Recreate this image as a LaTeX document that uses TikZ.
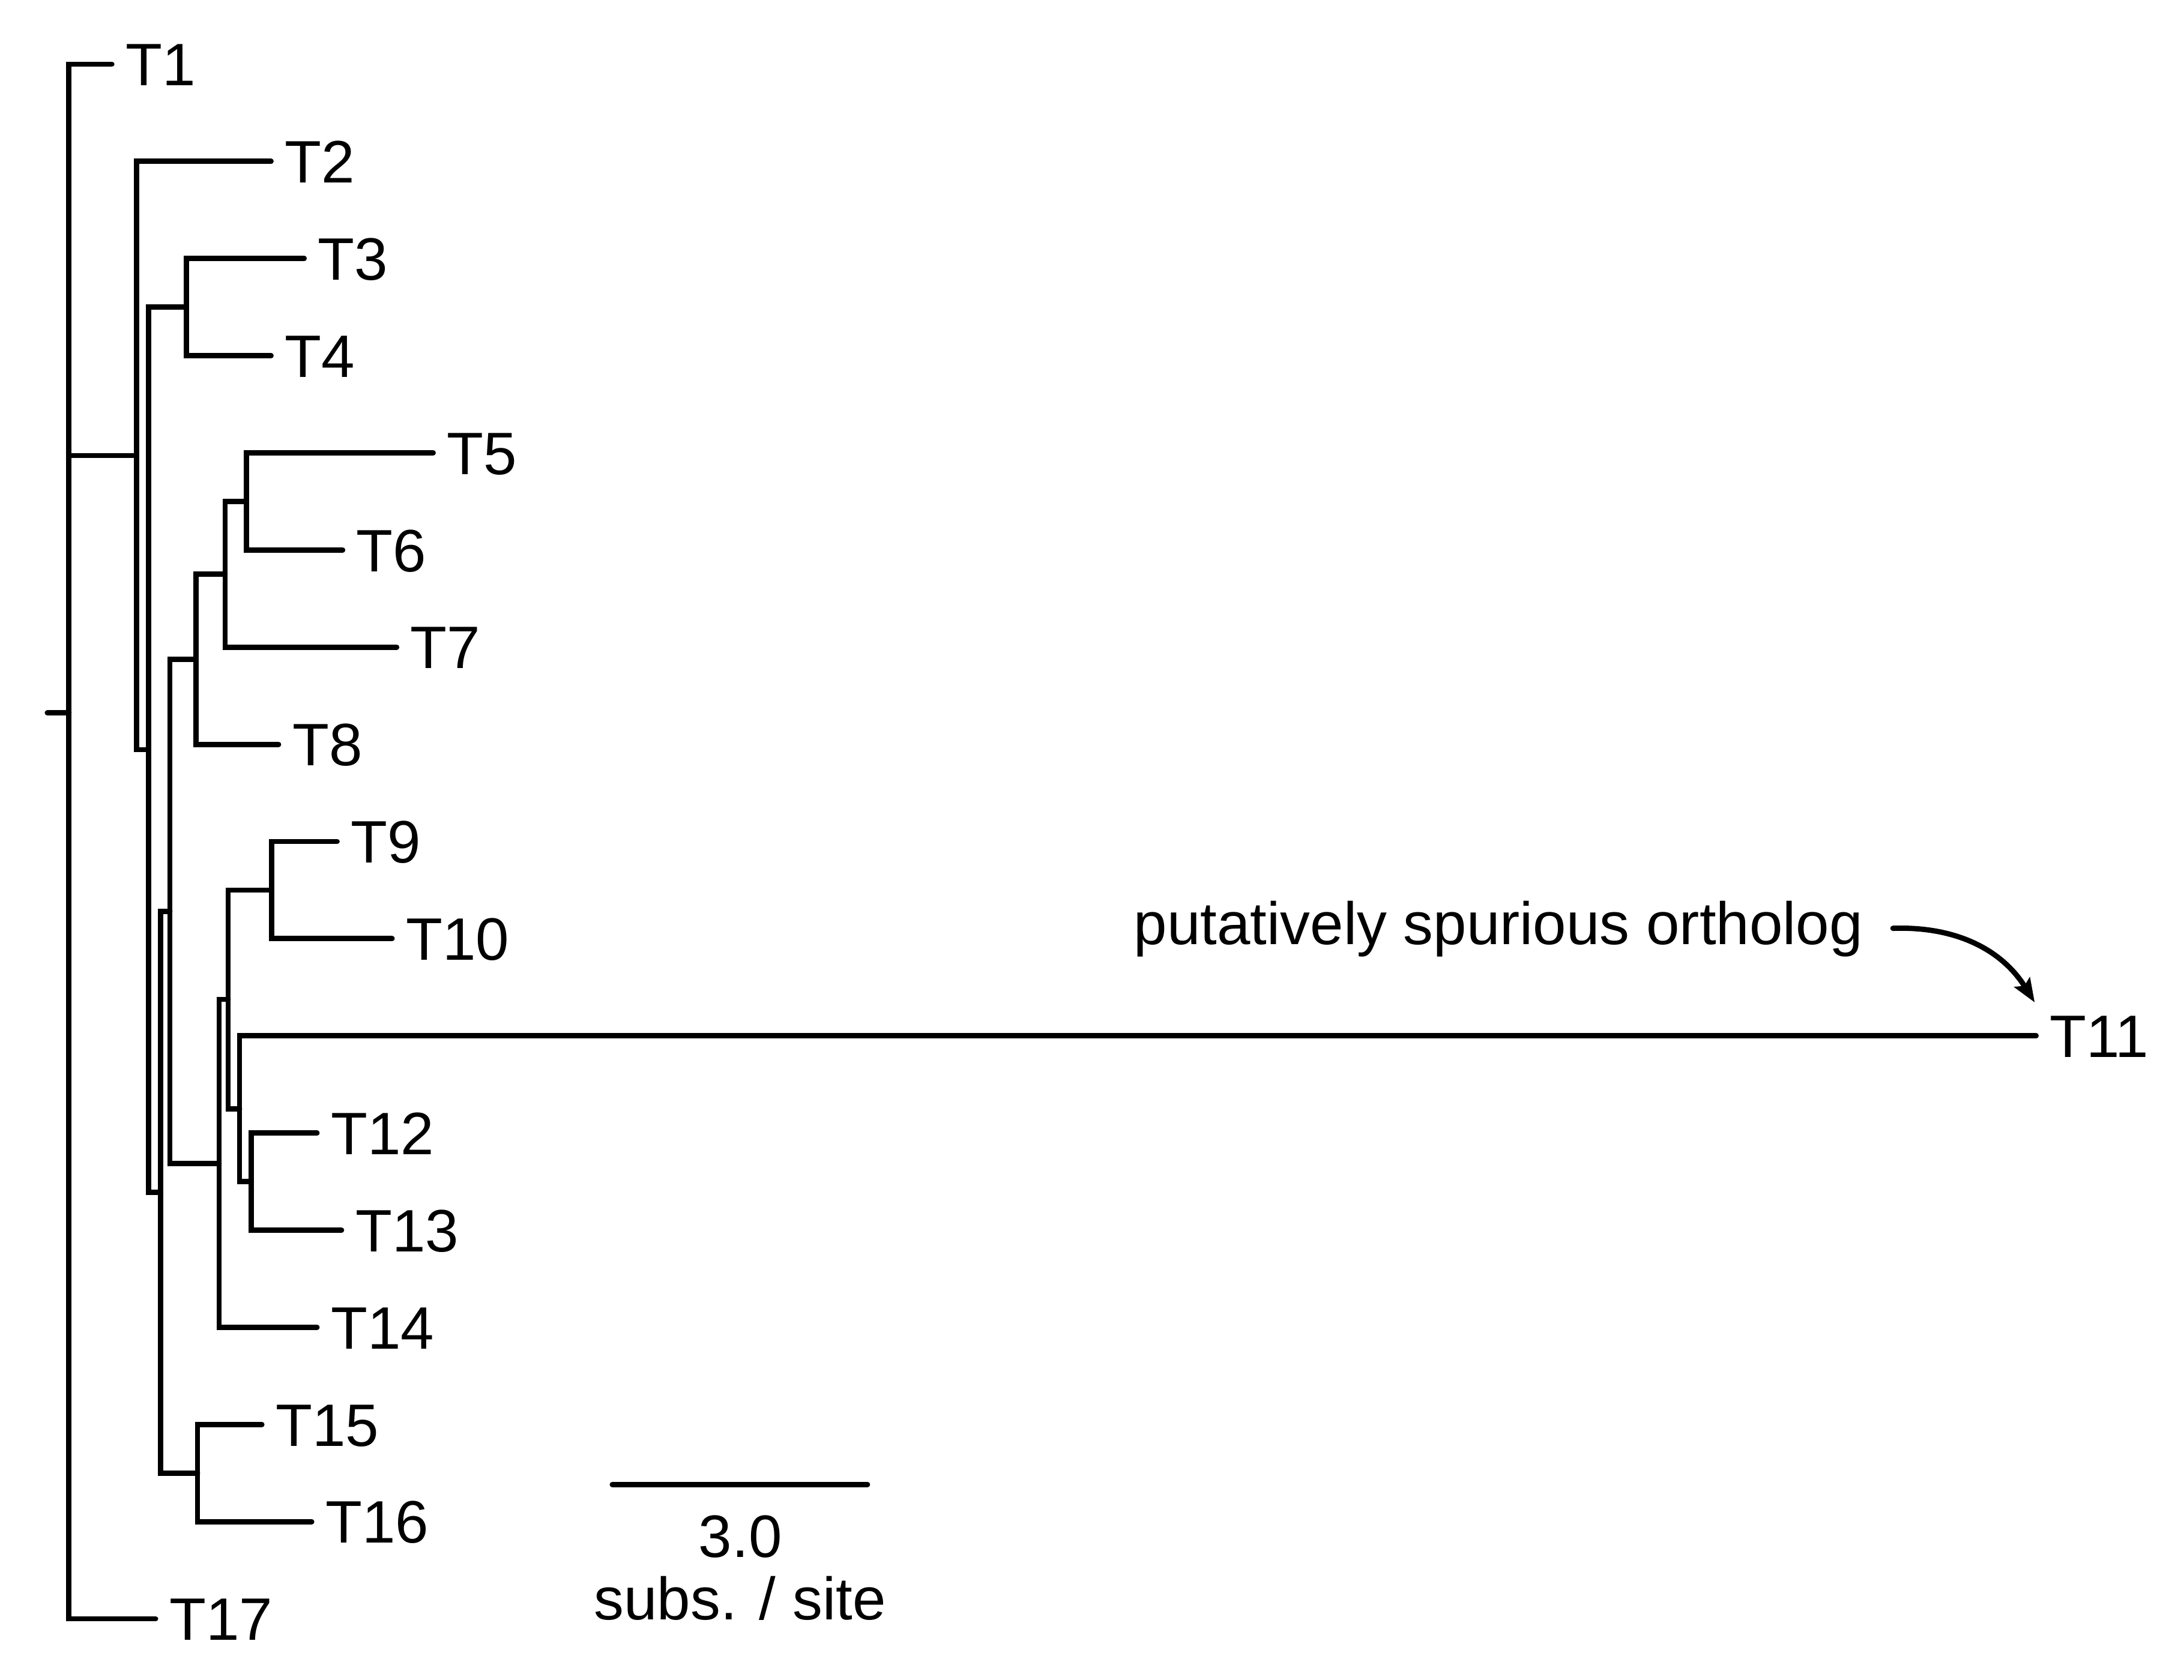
\documentclass[tikz,border=0pt]{standalone}
\usepackage{fontspec}
\setmainfont{Liberation Sans}
\usetikzlibrary{arrows.meta}
\begin{document}
\begin{tikzpicture}[x=0.5pt,y=-0.5pt,
  br/.style={line width=1.9pt, line cap=round, line join=miter},
  lab/.style={anchor=base west, inner sep=0pt, outer sep=0pt},
  txt/.style={inner sep=0pt, outer sep=0pt},
  font=\fontsize{21.5pt}{26pt}\selectfont]
\useasboundingbox (0,0) rectangle (1568,1206);
% leaf tips
\coordinate (t1) at (80.3,46.1);
\coordinate (t2) at (194.6,115.87);
\coordinate (t3) at (218.4,185.64);
\coordinate (t4) at (194.6,255.41);
\coordinate (t5) at (311,325.18);
\coordinate (t6) at (246,394.95);
\coordinate (t7) at (284.8,464.72);
\coordinate (t8) at (200,534.49);
\coordinate (t9) at (242,604.26);
\coordinate (t10) at (281.5,674.03);
\coordinate (t11) at (1461.8,743.8);
\coordinate (t12) at (227.6,813.57);
\coordinate (t13) at (245.2,883.34);
\coordinate (t14) at (227.6,953.11);
\coordinate (t15) at (188,1022.88);
\coordinate (t16) at (223.8,1092.65);
\coordinate (t17) at (111.7,1162.42);
% internal nodes
\coordinate (stub) at (34,511.87);
\coordinate (R) at (49.5,511.87);
\coordinate (A) at (97.9,327.09);
\coordinate (B) at (106.6,538.31);
\coordinate (C) at (133.7,220.53);
\coordinate (D) at (115.4,856.09);
\coordinate (E) at (122,654.41);
\coordinate (G) at (140.7,473.44);
\coordinate (I) at (161.6,412.39);
\coordinate (N56) at (177,360.07);
\coordinate (F) at (141.8,1057.77);
\coordinate (H) at (157.3,835.38);
\coordinate (J) at (163.8,717.64);
\coordinate (N910) at (195,639.15);
\coordinate (K) at (172,796.13);
\coordinate (L) at (180.3,848.46);
% branches
\draw[br] (stub) -- (R);
\draw[br] (t1) -| (R) |- (t17);
\draw[br] (R |- A) -- (A);
\draw[br] (t2) -| (A) |- (B);
\draw[br] (C) -| (B) |- (D);
\draw[br] (t3) -| (C) |- (t4);
\draw[br] (E) -| (D) |- (F);
\draw[br] (G) -| (E) |- (H);
\draw[br] (I) -| (G) |- (t8);
\draw[br] (N56) -| (I) |- (t7);
\draw[br] (t5) -| (N56) |- (t6);
\draw[br] (J) -| (H) |- (t14);
\draw[br] (N910) -| (J) |- (K);
\draw[br] (t9) -| (N910) |- (t10);
\draw[br] (t11) -| (K) |- (L);
\draw[br] (t12) -| (L) |- (t13);
\draw[br] (t15) -| (F) |- (t16);
% leaf labels
\foreach \i in {1,...,17}{
  \node[lab] (lab\i) at ([shift={(10,15.4)}]t\i) {T\i};
}
% scale bar
\coordinate (sb1) at (439.6,1065.9);
\coordinate (sb2) at (622.8,1065.9);
\draw[br] (sb1) -- (sb2);
\node[txt, anchor=base] (sbnum) at (531.5,1118.4) {3.0};
\node[txt, anchor=base] (sbunit) at (531.2,1162.9) {subs. / site};
% annotation
\node[lab] (note) at (814,678) {putatively spurious ortholog};
\coordinate (arrs) at (1359,666.6);
\coordinate (arre) at (1460.8,719.8);
\draw[line width=1.9pt, line cap=round, -{Stealth[length=8.5pt,width=6.5pt,inset=1.5pt]}] (arrs) to[out=2,in=122] (arre);
\end{tikzpicture}
\end{document}
